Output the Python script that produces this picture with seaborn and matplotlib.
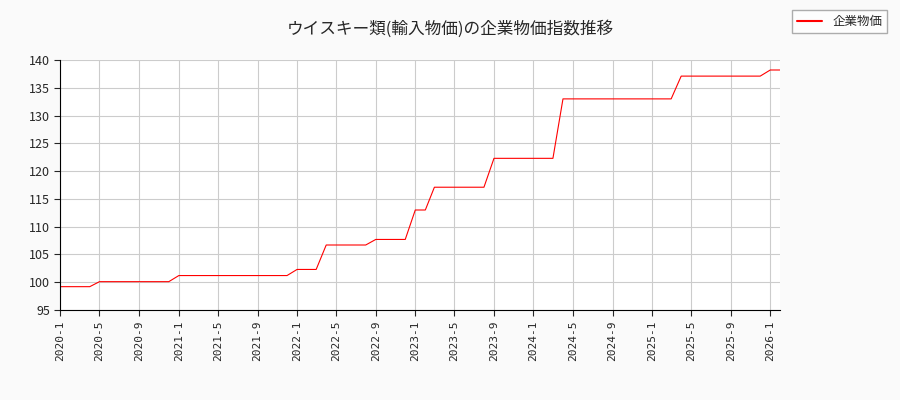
import matplotlib
matplotlib.use("Agg")
import matplotlib.pyplot as plt
from matplotlib.lines import Line2D
import seaborn as sns
import pandas as pd

months = pd.date_range("2020-01-01", "2026-02-01", freq="MS")
level_counts = [4, 8, 12, 3, 5, 4, 2, 6, 7, 12, 9, 2]
level_values = [99.2, 100.1, 101.2, 102.3, 106.7, 107.7, 113.0, 117.1, 122.3, 133.0, 137.1, 138.2]
values = []
for n, v in zip(level_counts, level_values):
    values += [v] * n
values = values[:len(months)]
df = pd.DataFrame({"date": months, "value": values})

sns.set_style("whitegrid")
plt.rcParams["font.family"] = ["Noto Sans CJK JP", "DejaVu Sans"]
fig = plt.figure(figsize=(9, 4), dpi=100, facecolor="#fafafa")
ax = fig.add_axes([0.067, 0.225, 0.8, 0.625])
ax.set_facecolor("white")
sns.lineplot(data=df, x="date", y="value", color="red", linewidth=0.8, ax=ax)
ax.set_ylim(95, 140)
ax.set_yticks(range(95, 141, 5))
ticks = pd.date_range("2020-01-01", "2026-01-01", freq="4MS")
ax.set_xticks(ticks)
ax.set_xticklabels([f"{d.year}-{d.month}" for d in ticks], rotation=90, family="DejaVu Sans Mono", fontsize=8)
for t in ax.get_yticklabels():
    t.set_fontsize(9)
ax.set_xlim(months[0], months[-1])
ax.grid(color="#cccccc", linewidth=0.8)
for s in ax.spines.values():
    s.set_visible(False)
ax.spines["left"].set_visible(True); ax.spines["left"].set_color("black")
ax.spines["bottom"].set_visible(True); ax.spines["bottom"].set_color("black")
ax.tick_params(left=True, bottom=True, length=4)
ax.set_xlabel(""); ax.set_ylabel("")
fig.legend([Line2D([], [], color="red", linewidth=1.5)], ["企業物価"], loc="upper right",
           bbox_to_anchor=(0.993, 0.99), fontsize=9, frameon=True, edgecolor="#999999", fancybox=False)
fig.suptitle("ウイスキー類(輸入物価)の企業物価指数推移", y=0.95, fontsize=12)
fig.savefig("out.png", facecolor=fig.get_facecolor())
